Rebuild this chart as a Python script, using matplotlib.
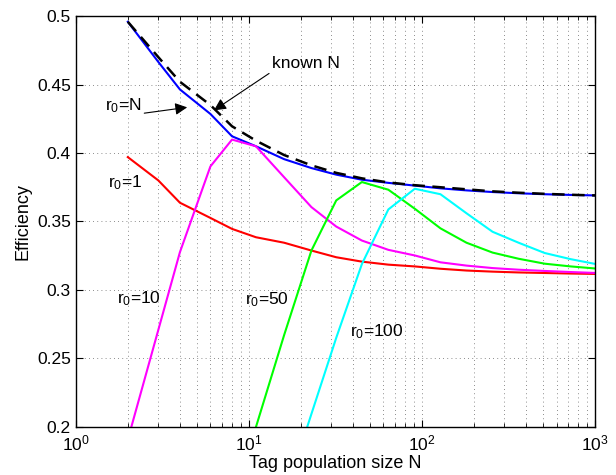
import matplotlib
matplotlib.use('Agg')
import matplotlib.pyplot as plt
from matplotlib.ticker import FormatStrFormatter, LogLocator

plt.rcParams['font.family'] = ['Liberation Sans', 'DejaVu Sans']
plt.rcParams['mathtext.fontset'] = 'custom'
plt.rcParams['mathtext.rm'] = 'Liberation Sans'
plt.rcParams['mathtext.it'] = 'Liberation Sans:italic'

# tag population sizes (x)
N = [2, 3, 4, 6, 8, 11, 16, 23, 32, 45, 64, 91, 128, 181, 256, 362, 512, 724, 1024]

known_N = [0.4958, 0.470, 0.452, 0.435, 0.4195, 0.409, 0.3985, 0.391, 0.3855, 0.3815,
           0.3785, 0.3765, 0.375, 0.3735, 0.372, 0.371, 0.3702, 0.3695, 0.369]
r0_N = [0.4958, 0.4665, 0.4464, 0.4285, 0.4122, 0.4049, 0.3955, 0.389, 0.3842, 0.3805,
        0.3782, 0.3762, 0.3742, 0.3727, 0.3715, 0.3706, 0.3699, 0.3694, 0.369]
r0_1 = [0.397, 0.380, 0.3637, 0.3526, 0.3446, 0.3385, 0.3345, 0.3288, 0.3239, 0.3207,
        0.3185, 0.3172, 0.3155, 0.3142, 0.3134, 0.3128, 0.3124, 0.312, 0.3117]
r0_10 = [0.1908, 0.2708, 0.3276, 0.3902, 0.4098, 0.4049, 0.3823, 0.3605, 0.3463, 0.3361,
         0.3293, 0.3252, 0.3202, 0.3178, 0.316, 0.3148, 0.3139, 0.3131, 0.3124]
# r0=50 starts at N=11, r0=100 at N=16 (lower values fall below the axis)
r0_50 = [0.2, 0.2671, 0.3288, 0.3654, 0.3788, 0.3732, 0.3593, 0.345, 0.3345, 0.3273,
         0.3228, 0.3192, 0.3172, 0.3156]
r0_100 = [0.148, 0.2095, 0.2651, 0.3189, 0.3588, 0.3739, 0.3699, 0.356, 0.3425, 0.3345,
          0.327, 0.3225, 0.3188]

fig = plt.figure(figsize=(6.16, 4.75), dpi=100)
ax = fig.add_axes([0.1229, 0.1011, 0.8430, 0.8652])

lw = 1.5
ax.plot(N, r0_N, color=(0, 0, 1), lw=lw)
ax.plot(N, r0_1, color=(1, 0, 0), lw=lw)
ax.plot(N, r0_10, color=(1, 0, 1), lw=lw)
ax.plot(N[5:], r0_50, color=(0, 1, 0), lw=lw)
ax.plot(N[6:], r0_100, color=(0, 1, 1), lw=lw)
ax.plot(N, known_N, color='k', lw=1.8, linestyle=(0, (5, 3)))

ax.set_xscale('log')
ax.set_xlim(1, 1000)
ax.set_ylim(0.2, 0.5)
ax.set_yticks([0.2, 0.25, 0.3, 0.35, 0.4, 0.45, 0.5])
ax.yaxis.set_major_formatter(FormatStrFormatter('%g'))
ax.xaxis.set_minor_locator(LogLocator(base=10, subs=range(2, 10)))

ax.grid(True, which='major', linestyle=(0, (1, 4)), color='k', lw=0.6, alpha=0.6)
ax.grid(True, which='minor', axis='x', linestyle=(0, (1, 4)), color='k', lw=0.6, alpha=0.6)
ax.tick_params(which='both', direction='in', top=True, right=True, labelsize=12.5)
ax.tick_params(axis='x', which='major', pad=5)
ax.tick_params(which='major', length=5)
ax.tick_params(which='minor', length=3)
for s in ax.spines.values():
    s.set_linewidth(1.0)

ax.set_xlabel('Tag population size N', fontsize=13, labelpad=1)
ax.set_ylabel('Efficiency', fontsize=13, labelpad=4)

fs = 12.5
ax.text(13.6, 0.4654, 'known N', fontsize=fs, va='center', ha='left')
ax.annotate('', xy=(6.1, 0.430), xytext=(13.5, 0.4592),
            arrowprops=dict(arrowstyle='-|>', color='k', lw=0.8, mutation_scale=18))
ax.text(1.476, 0.4345, r'r$_0$=N', fontsize=fs, va='center', ha='left')
ax.annotate('', xy=(4.57, 0.4336), xytext=(2.40, 0.4288),
            arrowprops=dict(arrowstyle='-|>', color='k', lw=0.8, mutation_scale=18))
ax.text(1.54, 0.3785, r'r$_0$=1', fontsize=fs, va='center', ha='left')
ax.text(1.73, 0.2940, r'r$_0$=10', fontsize=fs, va='center', ha='left')
ax.text(9.51, 0.2930, r'r$_0$=50', fontsize=fs, va='center', ha='left')
ax.text(38.4, 0.2695, r'r$_0$=100', fontsize=fs, va='center', ha='left')

fig.savefig('out.png', dpi=100)
